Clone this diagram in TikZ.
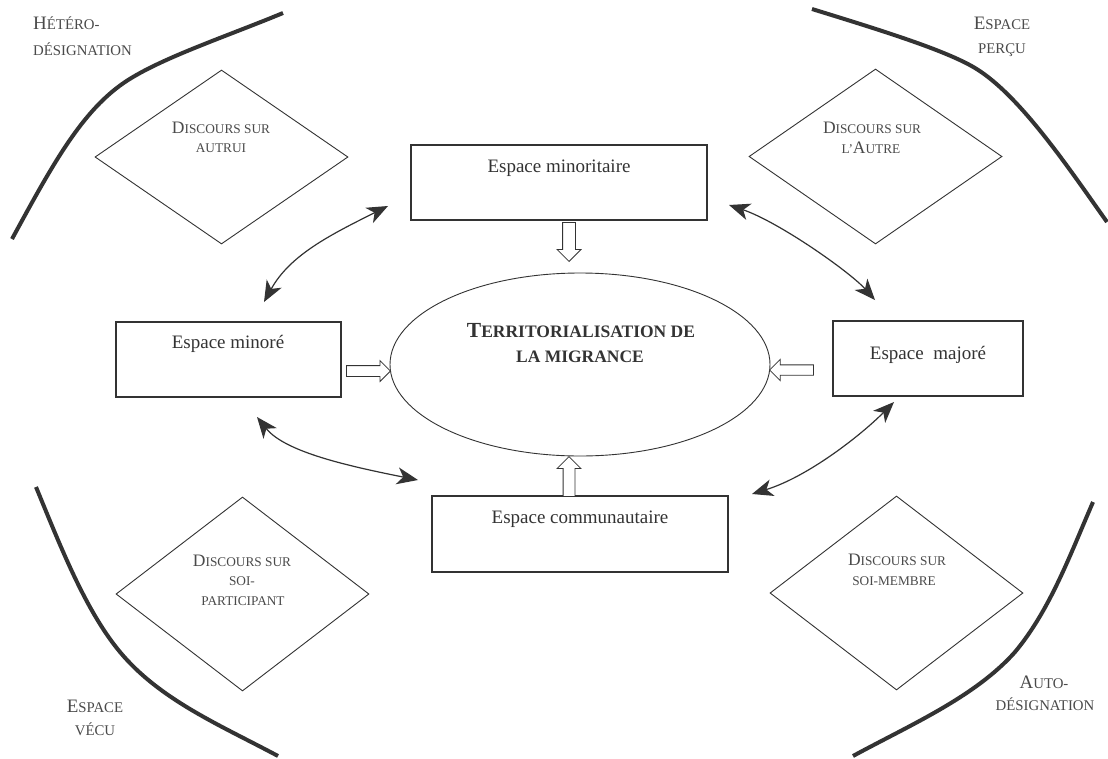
\documentclass[tikz,border=0pt]{standalone}
\usepackage{fontspec}
\setmainfont{Liberation Serif}
\usetikzlibrary{shapes.geometric,shapes.arrows,arrows.meta}
\definecolor{ink}{HTML}{333333}
\definecolor{lbl}{HTML}{4A4A4A}
\newcommand\dI[1]{{\fontsize{17.5}{19.5}\selectfont #1}}
\newcommand\cI[1]{{\fontsize{19}{23.5}\selectfont #1}}
\newcommand\eI[1]{{\fontsize{21.5}{25}\selectfont #1}}
\tikzset{
  boxst/.style={draw=ink, line width=1.1pt, rectangle, inner sep=0pt},
  boxtxt/.style={anchor=base, inner sep=0pt, text=ink, font=\fontsize{19}{22}\selectfont},
  diast/.style={draw=ink, line width=0.9pt, diamond, inner sep=0pt},
  diatxt/.style={anchor=base, inner sep=0pt, text=lbl, font=\fontsize{13.3}{19.5}\selectfont},
  cortxt/.style={anchor=base, inner sep=0pt, text=lbl, font=\fontsize{14.8}{23.5}\selectfont},
  elltxt/.style={anchor=base, inner sep=0pt, text=ink, font=\fontsize{17.5}{25}\selectfont\bfseries},
  barrow/.style={draw=ink, fill=white, single arrow, inner xsep=0pt, line width=0.8pt,
     single arrow tip angle=90, anchor=tip},
  dbl/.style={draw=ink, line width=1.2pt,
     {Stealth[length=21pt,width=17pt,inset=6pt]}-{Stealth[length=21pt,width=17pt,inset=6pt]}},
  bord/.style={draw=ink, line width=4pt}
}
\begin{document}
\begin{tikzpicture}[x=1pt,y=-1pt]
\useasboundingbox (0,0) rectangle (1108,758);
\fill[white] (0,0) rectangle (1108,758);

% thick border curves
\draw[bord] (12,239) .. controls (55,160) and (85,105) .. (133,77)
            .. controls (170,55) and (230,35) .. (283,13);
\draw[bord] (812,9) .. controls (880,30) and (945,50) .. (975,68)
            .. controls (1020,95) and (1070,170) .. (1107,222);
\draw[bord] (36,487) .. controls (60,545) and (85,610) .. (120,652)
            .. controls (160,700) and (220,725) .. (278,756);
\draw[bord] (1093,502) .. controls (1070,555) and (1050,610) .. (1015,652)
            .. controls (975,697) and (910,725) .. (853,756);

% corner labels
\node[cortxt, anchor=base west] (hetA) at (33,29) {\cI{H}ÉTÉRO-};
\node[cortxt, anchor=base west] (hetB) at (33,55) {DÉSIGNATION};
\node[cortxt] (percA) at (1002,29) {\cI{E}SPACE};
\node[cortxt] (percB) at (1002,53) {PERÇU};
\node[cortxt] (vecA) at (95,712) {\cI{E}SPACE};
\node[cortxt] (vecB) at (95,735) {VÉCU};
\node[cortxt] (autA) at (1044,688) {\cI{A}UTO-};
\node[cortxt] (autB) at (1045,710) {DÉSIGNATION};

% diamonds
\node[diast, minimum width=253pt, minimum height=174pt] (dTL) at (221.5,157) {};
\node[diast, minimum width=253pt, minimum height=175pt] (dTR) at (875.5,156.5) {};
\node[diast, minimum width=253pt, minimum height=194pt] (dBL) at (242.5,594) {};
\node[diast, minimum width=253pt, minimum height=194pt] (dBR) at (896.5,593) {};
\node[diatxt] (tTLa) at (221,133) {\dI{D}ISCOURS SUR};
\node[diatxt] (tTLb) at (221,152) {AUTRUI};
\node[diatxt] (tTRa) at (872,133) {\dI{D}ISCOURS SUR};
\node[diatxt] (tTRb) at (871,153) {L’\dI{A}UTRE};
\node[diatxt] (tBLa) at (242,566) {\dI{D}ISCOURS SUR};
\node[diatxt] (tBLb) at (242,585) {SOI-};
\node[diatxt] (tBLc) at (243,605) {PARTICIPANT};
\node[diatxt] (tBRa) at (897,565) {\dI{D}ISCOURS SUR};
\node[diatxt] (tBRb) at (894,585) {SOI-MEMBRE};

% boxes
\node[boxst, minimum width=296pt, minimum height=75pt] (minoritaire) at (559,182.5) {};
\node[boxst, minimum width=225pt, minimum height=75pt] (minore) at (228.5,359.5) {};
\node[boxst, minimum width=190pt, minimum height=75pt] (majore) at (928,358.5) {};
\node[boxst, minimum width=296pt, minimum height=76pt] (commu) at (580,534) {};
\node[boxtxt] (tmin) at (559,172) {Espace minoritaire};
\node[boxtxt] (tmnr) at (228,348) {Espace minoré};
\node[boxtxt] (tmaj) at (928,359) {Espace\ \ majoré};
\node[boxtxt] (tcom) at (580,523) {Espace communautaire};

% ellipse
\node[draw=ink, line width=0.9pt, ellipse, minimum width=380pt, minimum height=183pt, inner sep=0pt] (terr) at (580,364.5) {};
\node[elltxt] (teA) at (581,337) {\eI{T}ERRITORIALISATION DE};
\node[elltxt] (teB) at (580,362) {LA MIGRANCE};

% block arrows
\node[barrow, minimum height=39pt, inner ysep=6pt, single arrow head extend=5.5pt, rotate=-90] (aTop) at (569,262) {};
\node[barrow, minimum height=40pt, inner ysep=5.5pt, single arrow head extend=6pt, rotate=90] (aBot) at (569,456) {};
\node[barrow, minimum height=44pt, inner ysep=5pt, single arrow head extend=5pt] (aLeft) at (391,371) {};
\node[barrow, minimum height=44pt, inner ysep=4.75pt, single arrow head extend=5.5pt, rotate=180] (aRight) at (769,370) {};

% curved double arrows
\coordinate (p1a) at (264,302);
\coordinate (p1b) at (388,206);
\coordinate (p2a) at (257,417);
\coordinate (p2b) at (418,480);
\coordinate (p3a) at (729,205);
\coordinate (p3b) at (875,300);
\coordinate (p4a) at (894,402);
\coordinate (p4b) at (752,494);
\draw[dbl] (p1a) .. controls (290,255) and (330,235) .. (p1b);
\draw[dbl] (p2a) .. controls (285,452) and (348,466) .. (p2b);
\draw[dbl] (p3a) .. controls (779,222) and (850,272) .. (p3b);
\draw[dbl] (p4a) .. controls (859,437) and (807,477) .. (p4b);
\end{tikzpicture}
\end{document}
